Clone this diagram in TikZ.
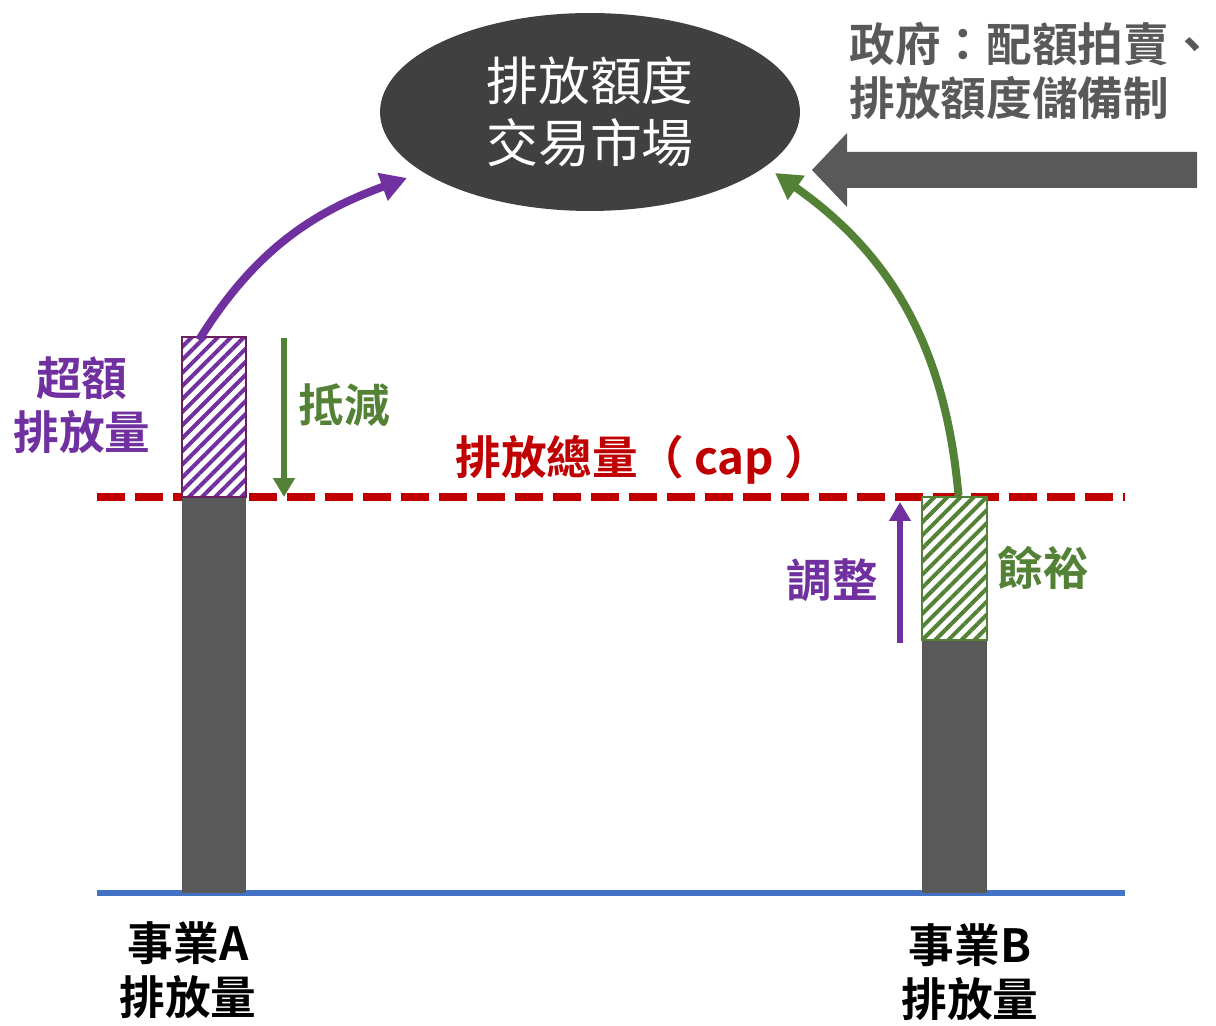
\documentclass[tikz,border=0pt]{standalone}
\usepackage{fontspec}
\setmainfont{Noto Sans CJK TC}[BoldFont={Noto Sans CJK TC Bold}]
\usetikzlibrary{arrows.meta, patterns.meta, shapes.geometric}
\definecolor{bargray}{HTML}{595959}
\definecolor{ellgray}{HTML}{404040}
\definecolor{capred}{HTML}{C00000}
\definecolor{baseblue}{HTML}{4472C4}
\definecolor{cpurple}{HTML}{7030A0}
\definecolor{plum}{HTML}{6B1F5E}
\definecolor{cgreen}{HTML}{538135}
\tikzset{bar/.style={rectangle, fill=bargray, inner sep=0pt}}
\tikzset{overbox/.style={rectangle, inner sep=0pt, preaction={fill=white},
    pattern={Lines[angle=45, distance=1.85mm, line width=0.8mm]}, pattern color=cpurple,
    draw=plum, line width=0.45mm}}
\tikzset{sparebox/.style={rectangle, inner sep=0pt, preaction={fill=white},
    pattern={Lines[angle=45, distance=1.85mm, line width=0.8mm]}, pattern color=cgreen,
    draw=cgreen, line width=0.5mm}}
\tikzset{lab/.style={inner sep=0pt, align=center, font=\bfseries\fontsize{26}{31}\selectfont}}
\tikzset{tradearrow/.style={line width=1.6mm, -{Triangle[length=0.52cm, width=0.56cm]}}}
\tikzset{movearrow/.style={line width=1.2mm, -{Triangle[length=0.38cm, width=0.42cm]}}}

\begin{document}
\begin{tikzpicture}[x=0.02cm, y=-0.02cm]
  \useasboundingbox (0,0) rectangle (1216,1026);

  %\coordinate (o) at (0,0);
  \coordinate (capL) at (97,497);
  \coordinate (capR) at (1125,497);
  \coordinate (baseL) at (97,893);
  \coordinate (baseR) at (1125,893);
  \coordinate (mktA) at (407,178);
  \coordinate (mktB) at (775,173);
  \coordinate (offtop) at (284,338);
  \coordinate (offbot) at (284,497);
  \coordinate (adjbot) at (900,643);
  \coordinate (adjtop) at (900,502);

  \node[ellipse, fill=ellgray, minimum width=8.4cm, minimum height=3.96cm, inner sep=0pt,
  text=white, align=center, font=\fontsize{29.5}{35}\selectfont
  ] (market) at (590,112) {排放額度\\交易市場};

  \node [anchor=west, align=left, inner sep=0pt, text=bargray,
  font=\bfseries\fontsize{26}{31}\selectfont] (gov) at (849,71) {政府：配額拍賣、\\排放額度儲備制};

  % government arrow
  \fill[bargray] (812,170) -- (847,133) -- (847,152) -- (1197,152) -- (1197,188)
    -- (847,188) -- (847,207) -- cycle;

  \draw[capred, line width=1.6mm, dash pattern=on 5.6mm off 2mm] (capL) -- (capR);
  \draw[baseblue, line width=1.3mm] (baseL) -- (baseR);

  \node[bar, minimum width=1.28cm, minimum height=7.92cm] (emA) at (214,695) {};
  \node[bar, minimum width=1.3cm, minimum height=5.06cm] (emB) at (954.5,766.5) {};
  \node[overbox, minimum width=1.28cm, minimum height=3.2cm] (overA) at (214,417) {};
  \node[sparebox, minimum width=1.3cm, minimum height=2.86cm] (spareB) at (954.5,568.5) {};

  \node [lab, text=cpurple] (overlab) at (82,405) {超額\\排放量};
  \node [lab, text=cgreen] (offlab) at (344,405) {抵減};
  \node [lab, text=capred] (caplab) at (643,460) {排放總量（ cap ）};
  \node [lab, text=cpurple] (adjlab) at (832,580) {調整};
  \node [lab, text=cgreen] (sparelab) at (1043,568) {餘裕};
  \node [lab, text=black] (firmA) at (188,970) {事業A\\排放量};
  \node [lab, text=black] (firmB) at (970,972) {事業B\\排放量};

  \draw[tradearrow, cpurple] ([shift={(-15,4)}]overA.north) to[out=58, in=200] (mktA);
  \draw[tradearrow, cgreen] ([xshift=0.08cm]spareB.north) to[out=95, in=-35] (mktB);

  \draw[movearrow, cgreen] (offtop) -- (offbot);
  \draw[movearrow, cpurple] (adjbot) -- (adjtop);

\end{tikzpicture}
\end{document}
